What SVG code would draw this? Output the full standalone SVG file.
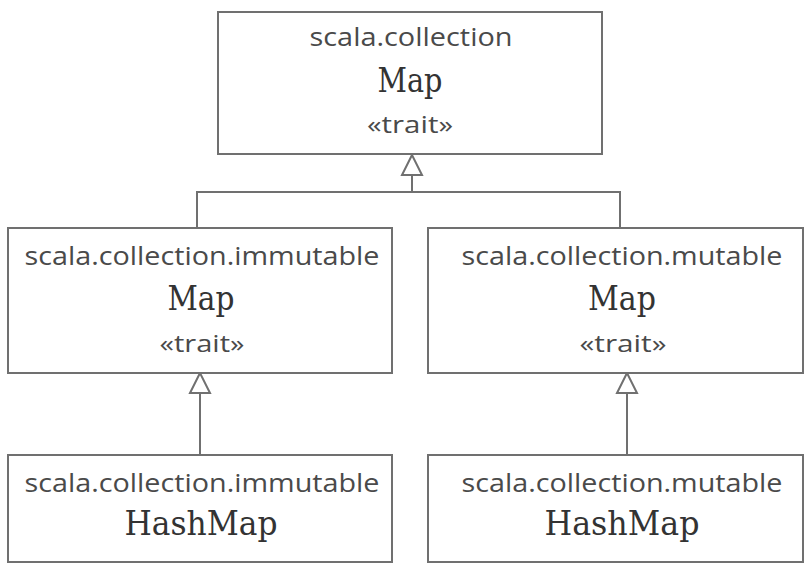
<svg xmlns="http://www.w3.org/2000/svg" width="804" height="564" viewBox="0 0 804 564">
<defs>
<style>
.box{fill:#fff;stroke:#707070;stroke-width:2}
.pkg{font-family:"Open Sans","Noto Sans",sans-serif;font-size:25px;fill:#4a4a4a;text-anchor:middle}
.name{font-family:"DejaVu Serif",serif;font-size:33px;fill:#333;text-anchor:middle}
.st{font-family:"Open Sans","Noto Sans",sans-serif;font-size:24px;fill:#4a4a4a;text-anchor:middle}
.edge{fill:none;stroke:#707070;stroke-width:2}
.head{fill:#fff;stroke:#707070;stroke-width:2;stroke-linejoin:miter}
</style>
</defs>
<rect width="804" height="564" fill="#fff"/>
<g id="connectors">
<polyline class="edge" points="197,228 197,192 620,192 620,228"/>
<line class="edge" x1="412" y1="175" x2="412" y2="192"/>
<polygon class="head" points="412,155 402,175 422,175"/>
<line class="edge" x1="200" y1="393" x2="200" y2="455"/>
<polygon class="head" points="200,373 190,393 210,393"/>
<line class="edge" x1="627" y1="393" x2="627" y2="455"/>
<polygon class="head" points="627,373 617,393 637,393"/>
</g>
<g id="scala-collection-Map">
<rect class="box" x="218" y="12" width="384" height="142"/>
<text class="pkg" x="411" y="46" textLength="203" lengthAdjust="spacingAndGlyphs">scala.collection</text>
<text class="name" x="410" y="92" textLength="65" lengthAdjust="spacingAndGlyphs">Map</text>
<text class="st" x="410" y="133" textLength="86" lengthAdjust="spacingAndGlyphs">«trait»</text>
</g>
<g id="immutable-Map">
<rect class="box" x="8" y="228" width="384" height="145"/>
<text class="pkg" x="202" y="265" textLength="355" lengthAdjust="spacingAndGlyphs">scala.collection.immutable</text>
<text class="name" x="201" y="310" textLength="67" lengthAdjust="spacingAndGlyphs">Map</text>
<text class="st" x="202" y="352" textLength="85" lengthAdjust="spacingAndGlyphs">«trait»</text>
</g>
<g id="mutable-Map">
<rect class="box" x="428" y="228" width="375" height="145"/>
<text class="pkg" x="622" y="265" textLength="321" lengthAdjust="spacingAndGlyphs">scala.collection.mutable</text>
<text class="name" x="622" y="310" textLength="68" lengthAdjust="spacingAndGlyphs">Map</text>
<text class="st" x="623" y="352" textLength="87" lengthAdjust="spacingAndGlyphs">«trait»</text>
</g>
<g id="immutable-HashMap">
<rect class="box" x="8" y="455" width="384" height="107"/>
<text class="pkg" x="202" y="492" textLength="355" lengthAdjust="spacingAndGlyphs">scala.collection.immutable</text>
<text class="name" x="201" y="535" textLength="153" lengthAdjust="spacingAndGlyphs">HashMap</text>
</g>
<g id="mutable-HashMap">
<rect class="box" x="428" y="455" width="375" height="107"/>
<text class="pkg" x="622" y="492" textLength="321" lengthAdjust="spacingAndGlyphs">scala.collection.mutable</text>
<text class="name" x="622" y="535" textLength="155" lengthAdjust="spacingAndGlyphs">HashMap</text>
</g>
</svg>
